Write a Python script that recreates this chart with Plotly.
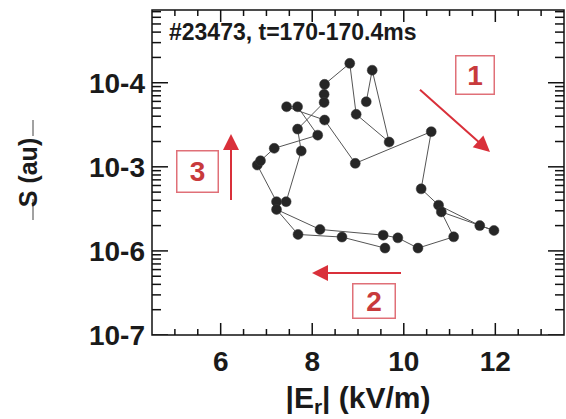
import math
import plotly.graph_objects as go

# |E_r| (kV/m) and S (au) samples along the trajectory
er_kvm = [9.18, 9.31, 9.68, 8.96, 8.82, 8.27, 8.26, 8.26, 7.68, 7.76, 7.43, 7.22,
          6.80, 6.87, 7.17, 8.12, 7.68, 7.44, 8.27, 8.94, 10.60, 10.38, 10.76, 11.66,
          11.97, 10.82, 11.09, 10.31, 9.87, 9.55, 8.17, 7.22, 7.69, 8.65, 9.59]
s_au = [5.94e-5, 1.41e-4, 1.97e-5, 4.21e-5, 1.70e-4, 9.57e-5, 7.28e-5, 5.84e-5, 2.81e-5,
        1.54e-5, 3.85e-6, 3.85e-6, 1.05e-5, 1.18e-5, 1.66e-5, 2.38e-5, 5.18e-5, 5.18e-5,
        3.60e-5, 1.10e-5, 2.62e-5, 5.47e-6, 3.50e-6, 2.00e-6, 1.75e-6, 2.91e-6, 1.47e-6,
        1.08e-6, 1.43e-6, 1.54e-6, 1.80e-6, 3.11e-6, 1.57e-6, 1.46e-6, 1.08e-6]

x_range = [4.5, 13.5]
x_ticks = [6, 8, 10, 12]
x_minor = [5.0 + 0.5 * i for i in range(17) if (5.0 + 0.5 * i) not in x_ticks]
y_log_range = [-7, -3.135]
y_tickvals = [1e-7, 1e-6, 1e-5, 1e-4]
y_ticktext = ["10-7", "10-6", "10-3", "10-4"]
y_minor = [k * 10.0 ** e for e in range(-7, -3) for k in range(2, 10)]

title_text = "#23473, t=170-170.4ms"
x_title = "|E<sub>r</sub>| (kV/m)"
y_title = "S (au)"

# plot-area geometry in pixels (used to place the red guides and tick lengths)
L, R, T, B = 152, 2, 10, 84
W, H = 566, 419
PW, PH = W - L - R, H - T - B
X_SPAN = x_range[1] - x_range[0]
Y_SPAN = y_log_range[1] - y_log_range[0]


def px(xp):
    return (xp - L) / PW


def py(yp):
    return (H - B - yp) / PH


RED = "#d9303a"
BOX = "#e07078"
TXT = "#c83a3c"
INK = "#111111"
FONT = "Liberation Sans"

fig = go.Figure()
fig.add_trace(go.Scatter(
    x=er_kvm, y=s_au, mode="lines+markers",
    line=dict(color="#555555", width=1),
    marker=dict(color="#262626", size=10, line=dict(color="#3a3a3a", width=0.5)),
    showlegend=False,
))

# inward tick marks on all four sides, drawn as short line segments
tick_x, tick_y = [], []
y_lo, y_hi = 10.0 ** y_log_range[0], 10.0 ** y_log_range[1]
for vals, length in [(x_ticks, 12), (x_minor, 6)]:
    d = length / PH * Y_SPAN
    for v in vals:
        tick_x += [v, v, None, v, v, None]
        tick_y += [y_lo, 10.0 ** (y_log_range[0] + d), None,
                   y_hi, 10.0 ** (y_log_range[1] - d), None]
for vals, length in [(y_tickvals, 16), (y_minor, 9)]:
    d = length / PW * X_SPAN
    for v in vals:
        if not y_lo <= v <= y_hi:
            continue
        tick_x += [x_range[0], x_range[0] + d, None, x_range[1], x_range[1] - d, None]
        tick_y += [v, v, None, v, v, None]

fig.add_trace(go.Scatter(
    x=tick_x, y=tick_y, mode="lines", line=dict(color=INK, width=1.5),
    hoverinfo="skip", showlegend=False, connectgaps=False,
))

tickfont = dict(family=FONT, size=28, color="#1a1a1a", weight="bold")

fig.update_xaxes(
    range=x_range, tickvals=x_ticks, ticks="", ticklabelstandoff=7,
    showgrid=False, zeroline=False, showline=False, tickfont=tickfont,
    title=dict(text=x_title, font=dict(family=FONT, size=30, color="#1a1a1a", weight="bold"),
               standoff=10),
)
fig.update_yaxes(
    type="log", range=y_log_range, tickvals=y_tickvals, ticktext=y_ticktext,
    ticks="", ticklabelstandoff=6,
    showgrid=False, zeroline=False, showline=False, tickfont=tickfont,
    title=dict(text=y_title, font=dict(family=FONT, size=25, color="#1a1a1a", weight="bold"),
               standoff=44),
)

annotations = [
    dict(text=title_text, x=px(167), y=py(32), xref="paper", yref="paper",
         xanchor="left", yanchor="middle", showarrow=False,
         font=dict(family=FONT, size=23, color="#1a1a1a", weight="bold")),
]

# numbered boxes
for label, cx, cy, bw, bh in [("1", 474.5, 74.5, 33, 33), ("2", 373.5, 300.5, 37, 29),
                              ("3", 197, 171, 36, 36)]:
    annotations.append(dict(
        text=label, x=px(cx), y=py(cy), xref="paper", yref="paper",
        xanchor="center", yanchor="middle", showarrow=False, width=bw, height=bh,
        bordercolor=BOX, borderwidth=1.5, borderpad=2, bgcolor="rgba(0,0,0,0)",
        font=dict(family=FONT, size=28, color=TXT, weight="bold"),
    ))

# direction arrows: (tip_x, tip_y, tail_x, tail_y) in pixels
for tx, ty, sx, sy in [(490, 152, 418, 88), (312, 273, 403, 273), (231, 134, 231, 203)]:
    annotations.append(dict(
        text=" ", x=px(tx), y=py(ty), xref="paper", yref="paper",
        ax=sx - tx, ay=sy - ty, showarrow=True, arrowhead=2, arrowsize=1.6,
        arrowwidth=2, arrowcolor=RED, font=dict(size=2),
    ))

shapes = [
    # plot frame
    dict(type="rect", xref="paper", yref="paper", x0=0, x1=1, y0=0, y1=1,
         line=dict(color=INK, width=1.5), layer="above"),
    dict(type="line", xref="paper", yref="paper", x0=px(33), x1=px(33), y0=py(120), y1=py(136),
         line=dict(color="#444444", width=1)),
    dict(type="line", xref="paper", yref="paper", x0=px(33), x1=px(33), y0=py(199), y1=py(220),
         line=dict(color="#444444", width=1)),
]

fig.update_layout(
    width=W, height=H, margin=dict(l=L, r=R, t=T, b=B),
    paper_bgcolor="white", plot_bgcolor="white",
    annotations=annotations, shapes=shapes,
)

fig.write_html("out.html")
